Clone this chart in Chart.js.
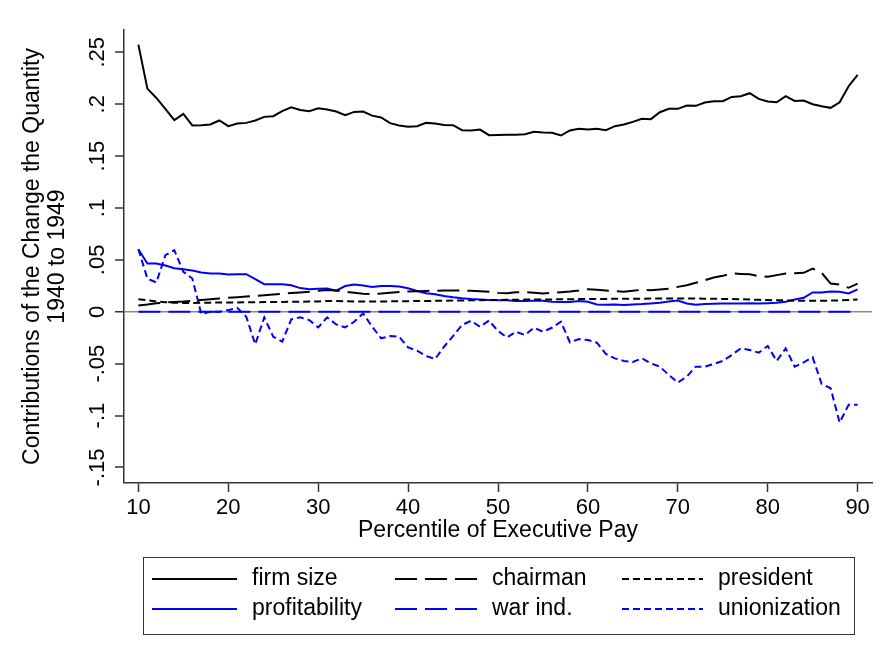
<!DOCTYPE html>
<html>
<head>
<meta charset="utf-8">
<script src="https://cdn.jsdelivr.net/npm/chart.js@4.4.1/dist/chart.umd.min.js"></script>
<style>
  html, body { margin: 0; padding: 0; background: #ffffff; }
  #wrap { width: 886px; height: 658px; position: relative; }
</style>
</head>
<body>
<div id="wrap"><canvas id="c" width="886" height="658"></canvas></div>
<script>
// Percentiles of executive pay (10th to 90th)
const percentiles = [];
for (let p = 10; p <= 90; p++) percentiles.push(p);

const firmSize = [
  0.2574, 0.2150, 0.2060, 0.1955, 0.1846, 0.1907, 0.1795, 0.1798, 0.1805, 0.1843,
  0.1788, 0.1814, 0.1820, 0.1843, 0.1878, 0.1884, 0.1933, 0.1970, 0.1945, 0.1933,
  0.1960, 0.1949, 0.1930, 0.1894, 0.1926, 0.1930, 0.1890, 0.1872, 0.1817, 0.1795,
  0.1782, 0.1788, 0.1820, 0.1814, 0.1800, 0.1798, 0.1750, 0.1747, 0.1755, 0.1702,
  0.1704, 0.1705, 0.1705, 0.1710, 0.1734, 0.1727, 0.1724, 0.1698, 0.1747, 0.1763,
  0.1756, 0.1763, 0.1750, 0.1788, 0.1805, 0.1830, 0.1859, 0.1856, 0.1923, 0.1955,
  0.1955, 0.1987, 0.1984, 0.2016, 0.2029, 0.2029, 0.2070, 0.2077, 0.2106, 0.2051,
  0.2026, 0.2019, 0.2077, 0.2032, 0.2035, 0.2000, 0.1980, 0.1965, 0.2019, 0.2173,
  0.2282
];

const chairman = [
  0.0060, 0.0070, 0.0082, 0.0090, 0.0094, 0.0098, 0.0105, 0.0113, 0.0120, 0.0128,
  0.0136, 0.0141, 0.0147, 0.0153, 0.0160, 0.0166, 0.0173, 0.0180, 0.0186, 0.0193,
  0.0202, 0.0210, 0.0204, 0.0193, 0.0183, 0.0174, 0.0170, 0.0176, 0.0184, 0.0190,
  0.0195, 0.0198, 0.0201, 0.0203, 0.0205, 0.0205, 0.0204, 0.0202, 0.0198, 0.0192,
  0.0182, 0.0178, 0.0188, 0.0189, 0.0183, 0.0176, 0.0183, 0.0189, 0.0196, 0.0205,
  0.0218, 0.0212, 0.0205, 0.0199, 0.0192, 0.0202, 0.0212, 0.0208, 0.0215, 0.0221,
  0.0240, 0.0256, 0.0279, 0.0304, 0.0330, 0.0346, 0.0369, 0.0365, 0.0362, 0.0343,
  0.0337, 0.0353, 0.0369, 0.0372, 0.0375, 0.0417, 0.0375, 0.0272, 0.0263, 0.0231,
  0.0272
];

const president = [
  0.0120, 0.0112, 0.0098, 0.0092, 0.0088, 0.0085, 0.0084, 0.0086, 0.0088, 0.0089,
  0.0090, 0.0090, 0.0091, 0.0092, 0.0093, 0.0093, 0.0095, 0.0096, 0.0097, 0.0098,
  0.0100, 0.0104, 0.0103, 0.0102, 0.0100, 0.0099, 0.0099, 0.0100, 0.0100, 0.0101,
  0.0102, 0.0103, 0.0104, 0.0105, 0.0106, 0.0108, 0.0109, 0.0110, 0.0112, 0.0113,
  0.0114, 0.0115, 0.0116, 0.0117, 0.0118, 0.0118, 0.0119, 0.0120, 0.0121, 0.0122,
  0.0123, 0.0124, 0.0124, 0.0125, 0.0125, 0.0126, 0.0126, 0.0127, 0.0127, 0.0128,
  0.0128, 0.0128, 0.0127, 0.0126, 0.0125, 0.0124, 0.0122, 0.0120, 0.0118, 0.0115,
  0.0113, 0.0111, 0.0110, 0.0107, 0.0106, 0.0105, 0.0106, 0.0108, 0.0110, 0.0114,
  0.0118
];

const profitability = [
  0.0603, 0.0465, 0.0465, 0.0446, 0.0420, 0.0410, 0.0397, 0.0378, 0.0369, 0.0369,
  0.0359, 0.0362, 0.0362, 0.0314, 0.0266, 0.0266, 0.0266, 0.0256, 0.0228, 0.0218,
  0.0222, 0.0224, 0.0203, 0.0248, 0.0262, 0.0252, 0.0238, 0.0248, 0.0249, 0.0243,
  0.0226, 0.0200, 0.0178, 0.0168, 0.0152, 0.0140, 0.0130, 0.0122, 0.0117, 0.0113,
  0.0112, 0.0112, 0.0103, 0.0103, 0.0106, 0.0106, 0.0096, 0.0093, 0.0093, 0.0103,
  0.0096, 0.0070, 0.0067, 0.0070, 0.0064, 0.0070, 0.0074, 0.0080, 0.0087, 0.0099,
  0.0109, 0.0080, 0.0067, 0.0074, 0.0077, 0.0080, 0.0080, 0.0080, 0.0083, 0.0080,
  0.0083, 0.0087, 0.0096, 0.0119, 0.0135, 0.0186, 0.0186, 0.0196, 0.0192, 0.0176,
  0.0215
];

const warInd = [
  0, 0, 0, 0, 0, 0, 0, 0, 0, 0,
  0, 0, 0, 0, 0, 0, 0, 0, 0, 0,
  0, 0, 0, 0, 0, 0, 0, 0, 0, 0,
  0, 0, 0, 0, 0, 0, 0, 0, 0, 0,
  0, 0, 0, 0, 0, 0, 0, 0, 0, 0,
  0, 0, 0, 0, 0, 0, 0, 0, 0, 0,
  0, 0, 0, 0, 0, 0, 0, 0, 0, 0,
  0, 0, 0, 0, 0, 0, 0, 0, 0, 0,
  0
];

const unionization = [
  0.0603, 0.0320, 0.0282, 0.0545, 0.0593, 0.0385, 0.0320, -0.0022, 0.0000, 0.0000,
  0.0016, 0.0038, -0.0048, -0.0314, -0.0054, -0.0240, -0.0288, -0.0074, -0.0054, -0.0080,
  -0.0151, -0.0054, -0.0122, -0.0151, -0.0096, -0.0016, -0.0144, -0.0256, -0.0234, -0.0240,
  -0.0343, -0.0375, -0.0426, -0.0455, -0.0337, -0.0234, -0.0128, -0.0087, -0.0144, -0.0085,
  -0.0185, -0.0247, -0.0192, -0.0224, -0.0154, -0.0192, -0.0154, -0.0096, -0.0295, -0.0263,
  -0.0272, -0.0298, -0.0407, -0.0449, -0.0474, -0.0484, -0.0449, -0.0497, -0.0529, -0.0609,
  -0.0683, -0.0625, -0.0529, -0.0529, -0.0503, -0.0474, -0.0417, -0.0353, -0.0369, -0.0394,
  -0.0330, -0.0474, -0.0353, -0.0529, -0.0487, -0.0439, -0.0696, -0.0737, -0.1067, -0.0897,
  -0.0897
];

// Axis ticks
const xTickValues = [10, 20, 30, 40, 50, 60, 70, 80, 90];
const xTickLabels = ['10', '20', '30', '40', '50', '60', '70', '80', '90'];
const yTickValues = [-0.15, -0.1, -0.05, 0, 0.05, 0.1, 0.15, 0.2, 0.25];
const yTickLabels = ['-.15', '-.1', '-.05', '0', '.05', '.1', '.15', '.2', '.25'];

const seriesNames = ['firm size', 'chairman', 'president', 'profitability', 'war ind.', 'unionization'];

const FONT = "'Liberation Sans', Arial, Helvetica, sans-serif";
const TICK_SIZE = 22;
const TEXT_SIZE = 23;
const LONG_DASH = [22, 8];
const SHORT_DASH = [7, 4];

function pts(values) {
  return percentiles.map((p, i) => ({ x: p, y: values[i] }));
}

function lineSet(label, values, color, dash) {
  return {
    label: label,
    data: pts(values),
    borderColor: color,
    backgroundColor: color,
    borderWidth: 2,
    borderDash: dash,
    pointRadius: 0,
    tension: 0,
    fill: false
  };
}

const datasets = [
  lineSet(seriesNames[0], firmSize, '#000000', []),
  lineSet(seriesNames[1], chairman, '#000000', LONG_DASH),
  lineSet(seriesNames[2], president, '#000000', SHORT_DASH),
  lineSet(seriesNames[3], profitability, '#0000ff', []),
  lineSet(seriesNames[4], warInd, '#0000ff', LONG_DASH),
  lineSet(seriesNames[5], unionization, '#0000ff', SHORT_DASH)
];

// Rotated y tick labels, placed with the y scale
const yLabelPlugin = {
  id: 'yLabels',
  afterDraw(chart) {
    const ys = chart.scales.y;
    const ctx = chart.ctx;
    ctx.save();
    ctx.fillStyle = '#000000';
    ctx.font = TICK_SIZE + 'px ' + FONT;
    ctx.textAlign = 'center';
    ctx.textBaseline = 'middle';
    yTickValues.forEach((v, i) => {
      const py = ys.getPixelForValue(v);
      ctx.save();
      ctx.translate(ys.right - 26, py);
      ctx.rotate(-Math.PI / 2);
      ctx.fillText(yTickLabels[i], 0, 0);
      ctx.restore();
    });
    ctx.restore();
  }
};

// Boxed legend in three columns below the plot
const legendPlugin = {
  id: 'boxLegend',
  afterDraw(chart) {
    const ctx = chart.ctx;
    const box = { x: 143.5, y: 557.5, w: 711, h: 77 };
    ctx.save();
    ctx.strokeStyle = '#333333';
    ctx.lineWidth = 1;
    ctx.strokeRect(box.x, box.y, box.w, box.h);
    const cols = [
      { x1: 152, x2: 237, tx: 252 },
      { x1: 395, x2: 477, tx: 492 },
      { x1: 622, x2: 703, tx: 718 }
    ];
    const rows = [579, 609];
    ctx.font = TEXT_SIZE + 'px ' + FONT;
    ctx.textBaseline = 'middle';
    ctx.textAlign = 'left';
    chart.data.datasets.forEach((ds, i) => {
      const c = cols[i % 3];
      const y = rows[Math.floor(i / 3)];
      ctx.beginPath();
      ctx.setLineDash(ds.borderDash || []);
      ctx.strokeStyle = ds.borderColor;
      ctx.lineWidth = ds.borderWidth;
      ctx.moveTo(c.x1, y);
      ctx.lineTo(c.x2, y);
      ctx.stroke();
      ctx.setLineDash([]);
      ctx.fillStyle = '#000000';
      ctx.fillText(ds.label, c.tx, y);
    });
    ctx.restore();
  }
};

new Chart(document.getElementById('c'), {
  type: 'line',
  data: { datasets: datasets },
  plugins: [yLabelPlugin, legendPlugin],
  options: {
    responsive: false,
    devicePixelRatio: 1,
    animation: false,
    layout: { padding: { left: 0, top: 30, right: 14, bottom: 113 } },
    plugins: { legend: { display: false }, tooltip: { enabled: false } },
    scales: {
      x: {
        type: 'linear',
        position: 'bottom',
        min: 8.4,
        max: 91.6,
        afterBuildTicks(scale) { scale.ticks = xTickValues.map(v => ({ value: v })); },
        afterFit(scale) { scale.height = 62; },
        ticks: {
          color: '#000000',
          font: { family: FONT, size: TICK_SIZE },
          padding: 3,
          maxRotation: 0,
          autoSkip: false,
          callback(value) {
            const i = xTickValues.indexOf(value);
            return i >= 0 ? xTickLabels[i] : '';
          }
        },
        grid: {
          drawOnChartArea: false,
          drawTicks: true,
          tickLength: 9,
          tickColor: '#333333',
          tickWidth: 1.5
        },
        border: { display: true, color: '#333333', width: 1.5 },
        title: {
          display: true,
          text: 'Percentile of Executive Pay',
          color: '#000000',
          font: { family: FONT, size: TEXT_SIZE, lineHeight: 1.15 },
          padding: { top: 0, bottom: 1 }
        }
      },
      y: {
        type: 'linear',
        position: 'left',
        min: -0.165,
        max: 0.2715,
        afterBuildTicks(scale) { scale.ticks = yTickValues.map(v => ({ value: v })); },
        afterFit(scale) { scale.width = 124; },
        ticks: { display: false },
        grid: {
          drawOnChartArea: true,
          drawTicks: true,
          tickLength: 9,
          tickColor: '#333333',
          tickWidth: 1.5,
          lineWidth: (ctx) => (ctx.tick && ctx.tick.value === 0 ? 1.5 : 0),
          color: (ctx) => (ctx.tick && ctx.tick.value === 0 ? '#8a8a8a' : 'rgba(0,0,0,0)')
        },
        border: { display: true, color: '#333333', width: 1.5 },
        title: {
          display: true,
          text: ['Contributions of the Change the Quantity', '1940 to 1949'],
          color: '#000000',
          font: { family: FONT, size: TEXT_SIZE, lineHeight: 1.05 },
          padding: { top: 21, bottom: 0 }
        }
      }
    }
  }
});
</script>
</body>
</html>
